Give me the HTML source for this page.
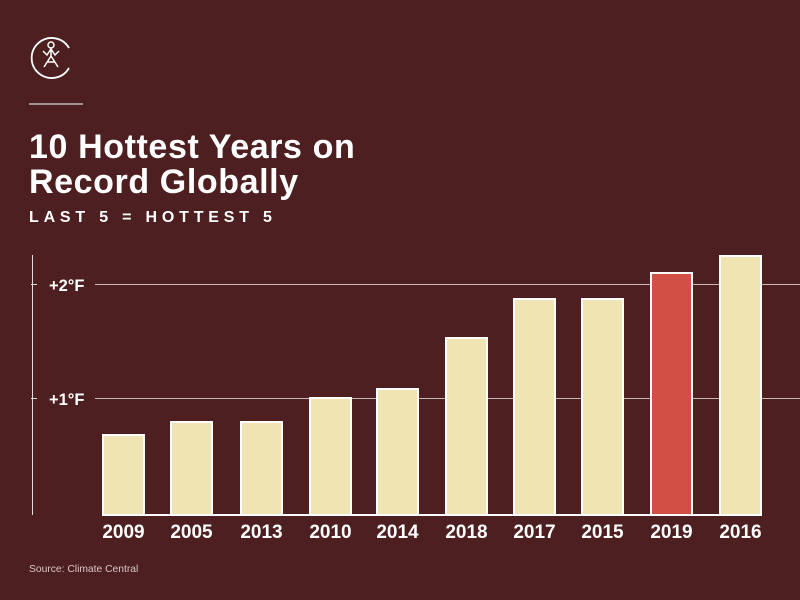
<!DOCTYPE html>
<html><head><style>
html,body{margin:0;padding:0;}
body{width:800px;height:600px;background:#4d1f20;font-family:"Liberation Sans",Arial,sans-serif;overflow:hidden;}
</style></head><body>
<svg width="800" height="600" xmlns="http://www.w3.org/2000/svg" style="position:absolute;left:0;top:0">
<rect width="800" height="600" fill="#4d1f20"/>
<path d="M69 48 A20 20 0 1 0 69 68" fill="none" stroke="#fff" stroke-width="1.8"/>
<circle cx="51" cy="45" r="3" fill="none" stroke="#fff" stroke-width="1.5"/>
<path d="M43 51 L47 55 L51 49 L55 55 L59 51 M51 49 L51 56 M44 67 L51 56 L58 67 M47 62 L55 62" fill="none" stroke="#fff" stroke-width="1.5"/>
<line x1="29" y1="104" x2="83" y2="104" stroke="#fff" stroke-width="1"/>
<text x="29" y="158" fill="#fff" font-size="34" font-weight="bold" letter-spacing="0.6">10 Hottest Years on</text>
<text x="29" y="193" fill="#fff" font-size="34" font-weight="bold" letter-spacing="0.6">Record Globally</text>
<text x="29" y="222" fill="#fff" font-size="16" font-weight="bold" letter-spacing="4.8">LAST 5 = HOTTEST 5</text>
<line x1="32.5" y1="255" x2="32.5" y2="515" stroke="#ddd" stroke-width="1"/>
<line x1="31" y1="284.5" x2="37" y2="284.5" stroke="#ddd"/>
<line x1="31" y1="398.5" x2="37" y2="398.5" stroke="#ddd"/>
<line x1="95" y1="284.5" x2="800" y2="284.5" stroke="#c9b8b8" stroke-width="1"/>
<line x1="95" y1="398.5" x2="800" y2="398.5" stroke="#c9b8b8" stroke-width="1"/>
<text x="49" y="291" fill="#fff" font-size="16.5" font-weight="bold">+2°F</text>
<text x="49" y="405" fill="#fff" font-size="16.5" font-weight="bold">+1°F</text>
<g stroke="#fff" stroke-width="2" fill="#f0e4b2">
<rect x="103" y="435" width="41" height="80"/>
<rect x="171" y="422" width="41" height="93"/>
<rect x="241" y="422" width="41" height="93"/>
<rect x="310" y="398" width="41" height="117"/>
<rect x="377" y="389" width="41" height="126"/>
<rect x="446" y="338" width="41" height="177"/>
<rect x="514" y="299" width="41" height="216"/>
<rect x="582" y="299" width="41" height="216"/>
<rect x="651" y="273" width="41" height="242" fill="#d24f45"/>
<rect x="720" y="256" width="41" height="259"/>
</g>
<line x1="102" y1="515" x2="762" y2="515" stroke="#fff" stroke-width="2"/>
<g fill="#fff" font-size="19" font-weight="bold" text-anchor="middle">
<text x="123.5" y="538">2009</text>
<text x="191.5" y="538">2005</text>
<text x="261.5" y="538">2013</text>
<text x="330.5" y="538">2010</text>
<text x="397.5" y="538">2014</text>
<text x="466.5" y="538">2018</text>
<text x="534.5" y="538">2017</text>
<text x="602.5" y="538">2015</text>
<text x="671.5" y="538">2019</text>
<text x="740.5" y="538">2016</text>
</g>
<text x="29" y="572" fill="#d8c8c8" font-size="10.3">Source: Climate Central</text>
</svg>
</body></html>
